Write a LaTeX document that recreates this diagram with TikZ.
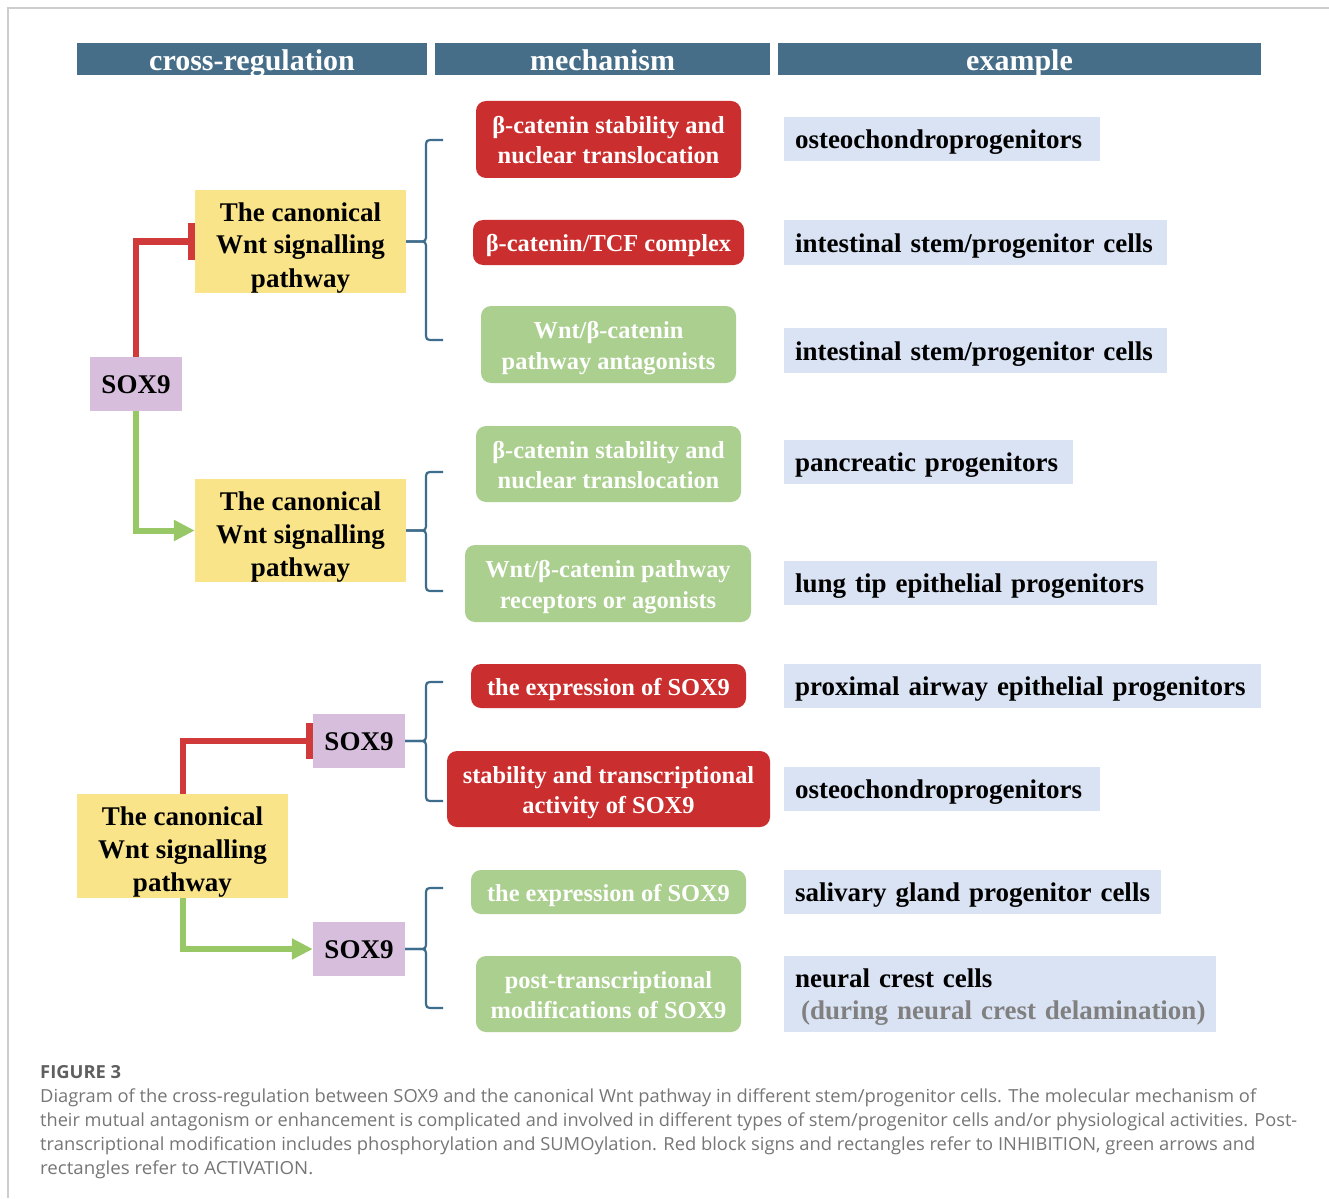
\documentclass[tikz,border=0pt]{standalone}
\usepackage{fontspec}
\usepackage{graphicx}
\setmainfont{Liberation Serif}
\newfontfamily\capfont{Open Sans}
\usetikzlibrary{arrows.meta}
\definecolor{hdr}{RGB}{70,110,137}
\definecolor{ylw}{RGB}{250,228,138}
\definecolor{prp}{RGB}{214,190,220}
\definecolor{redbox}{RGB}{202,46,46}
\definecolor{redln}{RGB}{208,58,58}
\definecolor{grnbox}{RGB}{170,207,142}
\definecolor{grnln}{RGB}{152,200,102}
\definecolor{exbox}{RGB}{218,227,243}
\definecolor{exgray}{RGB}{128,128,128}
\definecolor{brcol}{RGB}{62,108,140}
\definecolor{framecol}{RGB}{205,205,205}
\definecolor{capgray}{RGB}{118,118,118}
\definecolor{figgray}{RGB}{95,95,95}
% struts: \sa single-line 27px, \sy yellow top, \sm mechanism
\newcommand\sa{\rule[-6pt]{0pt}{31pt}}
\newcommand\sytop{\rule{0pt}{31pt}}
\newcommand\sybot{\rule[-6pt]{0pt}{6pt}}
\newcommand\sm{\rule[-5.5pt]{0pt}{29.5pt}}
\newcommand\nostrut{}
\newcommand\bx[9]{\node[#2, minimum width=\fpeval{#6-#4}pt, minimum height=\fpeval{#7-#5}pt] (#1) at ({(#4+#6)/2},{(#5+#7)/2}) {#3#8#9};}
\newcommand\ebx[6]{\node[exstyle, text width=\fpeval{#4-#2-22}pt, minimum height=\fpeval{#5-#3}pt] (#1) at ({(#2+#4)/2},{(#3+#5)/2}) {\sa#6\sa};}
\newcommand\mybrace[4]{%
 \draw[brc] (#1.east) -- (418,#2) .. controls (426,#2) .. (426,#2-8) -- (426,#3+8) .. controls (426,#3) .. (434,#3) -- (443,#3);
 \draw[brc] (#1.east) -- (418,#2) .. controls (426,#2) .. (426,#2+8) -- (426,#4-8) .. controls (426,#4) .. (434,#4) -- (443,#4);}
\begin{document}
\begin{tikzpicture}[x=1pt,y=-1pt,
 hdrbox/.style={fill=hdr, text=white, font=\fontsize{30}{36}\selectfont\bfseries, inner sep=0pt, text height=26pt, text depth=2pt},
 big/.style={font=\fontsize{27}{33}\selectfont\bfseries},
 ybox/.style={big, fill=ylw, inner sep=0pt, align=center},
 pbox/.style={big, fill=prp, inner sep=0pt},
 mech/.style={rounded corners=10pt, inner sep=0pt, align=center, text=white, font=\fontsize{24.4}{29}\selectfont\bfseries},
 inh/.style={mech, fill=redbox},
 act/.style={mech, fill=grnbox},
 exstyle/.style={font=\fontsize{27}{32}\selectfont\bfseries, fill=exbox, inner xsep=11pt, inner ysep=0pt, align=left},
 inhib/.style={draw=redln, line width=6pt, -{Bar[width=36pt,line width=7pt]}},
 activ/.style={draw=grnln, line width=6pt, -{Triangle[length=21pt,width=20pt]}},
 brc/.style={draw=brcol, line width=2.2pt},
 capline/.style={anchor=base west, inner sep=0pt, text=capgray, font=\capfont\fontsize{18}{24}\selectfont}
]
\useasboundingbox (0,0) rectangle (1329,1198);
\fill[white] (0,0) rectangle (1329,1198);
\draw[framecol, line width=1.5pt] (8,1198) -- (8,8) -- (1329,8);

% headers
\bx{h1}{hdrbox}{\nostrut}{77}{43}{427}{75}{cross-regulation}{}
\bx{h2}{hdrbox}{\nostrut}{435}{43}{770}{75}{mechanism}{}
\bx{h3}{hdrbox}{\nostrut}{778}{43}{1261}{75}{example}{}

% yellow pathway boxes
\bx{Y1}{ybox}{\sytop}{195}{190}{406}{293}{The canonical\\Wnt signalling\\pathway}{\sybot}
\bx{Y2}{ybox}{\sytop}{195}{479}{406}{582}{The canonical\\Wnt signalling\\pathway}{\sybot}
\bx{Y3}{ybox}{\sytop}{77}{794}{288}{898}{The canonical\\Wnt signalling\\pathway}{\sybot}

% SOX9 boxes
\bx{S1}{pbox}{\sa}{90}{357}{182}{411}{SOX9}{}
\bx{S2}{pbox}{\sa}{313}{714}{405}{768}{SOX9}{}
\bx{S3}{pbox}{\sa}{313}{922}{405}{976}{SOX9}{}

% mechanisms
\bx{M1}{inh}{\sm}{476}{101}{741}{178}{β-catenin stability and\\nuclear translocation}{\sm}
\bx{M2}{inh}{\sm}{473}{220}{744}{265}{β-catenin/TCF complex}{}
\bx{M3}{act}{\sm}{481}{306}{736}{383}{Wnt/β-catenin\\pathway antagonists}{\sm}
\bx{M4}{act}{\sm}{476}{426}{741}{502}{β-catenin stability and\\nuclear translocation}{\sm}
\bx{M5}{act}{\sm}{465}{545}{751}{622}{Wnt/β-catenin pathway\\receptors or agonists}{\sm}
\bx{M6}{inh}{\sm}{471}{664}{746}{708}{the expression of SOX9}{}
\bx{M7}{inh}{\sm}{447}{751}{770}{827}{stability and transcriptional\\activity of SOX9}{\sm}
\bx{M8}{act}{\sm}{471}{870}{746}{914}{the expression of SOX9}{}
\bx{M9}{act}{\sm}{476}{956}{741}{1032}{post-transcriptional\\modifications of SOX9}{\sm}

% examples
\ebx{E1}{784}{117}{1100}{161}{osteochondroprogenitors}
\ebx{E2}{784}{220}{1167}{265}{intestinal stem/progenitor cells}
\ebx{E3}{784}{328}{1167}{373}{intestinal stem/progenitor cells}
\ebx{E4}{784}{440}{1073}{484}{pancreatic progenitors}
\ebx{E5}{784}{561}{1157}{605}{lung tip epithelial progenitors}
\ebx{E6}{784}{664}{1261}{708}{proximal airway epithelial progenitors}
\ebx{E7}{784}{767}{1100}{811}{osteochondroprogenitors}
\ebx{E8}{784}{870}{1161}{914}{salivary gland progenitor cells}
\ebx{E9}{784}{956}{1216}{1032}{neural crest cells\\\mbox{\hspace*{6pt}\color{exgray}(during neural crest delamination)}}

% connectors
\draw[inhib] (S1.north) |- (Y1.west);
\draw[activ] (S1.south) |- (Y2.west);
\draw[inhib] (Y3.north) |- (S2.west);
\draw[activ] (Y3.south) |- (S3.west);

% braces
\mybrace{Y1}{241.5}{140}{340}
\mybrace{Y2}{530.5}{472}{591}
\mybrace{S2}{741}{682}{801}
\mybrace{S3}{949}{888}{1008}

% caption
\node[capline, text=figgray] (fig) at (40,1078) {\resizebox{81pt}{\height}{\bfseries FIGURE 3}};
\node[capline] (c1) at (40,1102) {\resizebox{1216pt}{\height}{Diagram of the cross-regulation between SOX9 and the canonical Wnt pathway in different stem/progenitor cells. The molecular mechanism of}};
\node[capline] (c2) at (40,1126) {\resizebox{1257pt}{\height}{their mutual antagonism or enhancement is complicated and involved in different types of stem/progenitor cells and/or physiological activities. Post-}};
\node[capline] (c3) at (40,1150) {\resizebox{1215pt}{\height}{transcriptional modification includes phosphorylation and SUMOylation. Red block signs and rectangles refer to INHIBITION, green arrows and}};
\node[capline] (c4) at (40,1174) {\resizebox{273pt}{\height}{rectangles refer to ACTIVATION.}};
\end{tikzpicture}
\end{document}
